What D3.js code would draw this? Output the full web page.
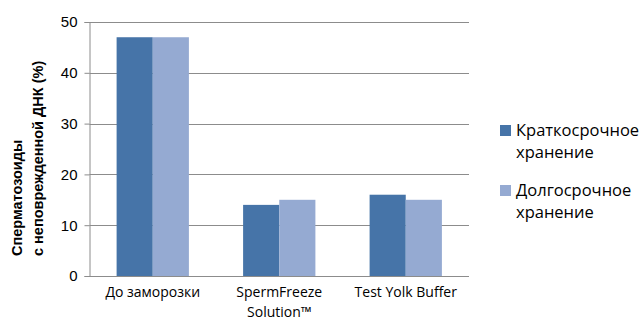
<!DOCTYPE html>
<html>
<head>
<meta charset="utf-8">
<script src="https://cdn.jsdelivr.net/npm/d3@7"></script>
<style>
  html, body { margin: 0; padding: 0; background: #fff; }
  svg { display: block; }
</style>
</head>
<body>
<svg id="chart" width="643" height="320"></svg>
<script>
// Categories and series
const categories = ["До заморозки", "SpermFreeze Solution™", "Test Yolk Buffer"];
const categoryLines = [["До заморозки"], ["SpermFreeze", "Solution™"], ["Test Yolk Buffer"]];
const seriesNames = ["Краткосрочное хранение", "Долгосрочное хранение"];
const legendLines = [["Краткосрочное", "хранение"], ["Долгосрочное", "хранение"]];
const shortTerm = [47, 14, 16];
const longTerm = [47, 15, 15];
const yTicks = [0, 10, 20, 30, 40, 50];
const yTitle = ["Сперматозоиды", "с неповрежденной ДНК (%)"];
const colors = ["#4674A8", "#95AAD2"];

const svg = d3.select("#chart");
const margin = { left: 89.5, right: 174, top: 22, bottom: 44 };
const W = 643, H = 320;
const plotW = W - margin.left - margin.right;
const plotH = H - margin.top - margin.bottom;

const g = svg.append("g").attr("transform", `translate(${margin.left},${margin.top})`);

const x0 = d3.scaleBand().domain(categories).range([0, plotW]).paddingInner(0).paddingOuter(0);
// Two bars per group with a gap of 150% of a bar width
const x1 = d3.scaleBand().domain([0, 1]).range([x0.bandwidth() * 0.75 / 3.5, x0.bandwidth() - x0.bandwidth() * 0.75 / 3.5]).padding(0);
const y = d3.scaleLinear().domain([0, 50]).range([plotH, 0]);

// Gridlines
g.append("g").selectAll("line").data(yTicks.filter(d => d > 0)).join("line")
  .attr("x1", 0).attr("x2", plotW)
  .attr("y1", d => Math.round(y(d)) + 0.5).attr("y2", d => Math.round(y(d)) + 0.5)
  .attr("stroke", "#8c8c8c").attr("stroke-width", 1);

// Bars
const data = categories.map((c, i) => ({ cat: c, vals: [shortTerm[i], longTerm[i]] }));
g.append("g").selectAll("g").data(data).join("g")
  .attr("transform", d => `translate(${x0(d.cat)},0)`)
  .selectAll("rect").data(d => d.vals.map((v, k) => ({ v, k }))).join("rect")
  .attr("x", d => x1(d.k)).attr("width", x1.bandwidth())
  .attr("y", d => y(d.v)).attr("height", d => plotH - y(d.v))
  .attr("fill", d => colors[d.k]);

// Y axis
const yAxis = d3.axisLeft(y).tickValues(yTicks).tickSize(5).tickPadding(7);
const ya = g.append("g").call(yAxis);
ya.select(".domain").attr("stroke", "#8c8c8c").attr("d", `M-5,${plotH + 0.5}H0.5V0.5H-5`);
ya.selectAll(".tick line").attr("stroke", "#8c8c8c");
ya.selectAll(".tick text").attr("font-family", "Liberation Sans, Arial, sans-serif")
  .attr("font-size", 15).attr("fill", "#000");

// X axis baseline
g.append("line").attr("x1", 0).attr("x2", plotW)
  .attr("y1", plotH + 0.5).attr("y2", plotH + 0.5).attr("stroke", "#8c8c8c");

// Category labels
const catG = g.append("g").selectAll("text").data(categories).join("text")
  .attr("text-anchor", "middle")
  .attr("font-family", "Open Sans, sans-serif").attr("font-size", 14).attr("fill", "#000")
  .attr("transform", d => `translate(${x0(d) + x0.bandwidth() / 2},${plotH + 21})`);
catG.selectAll("tspan").data((d, i) => categoryLines[i]).join("tspan")
  .attr("x", 0).attr("dy", (d, i) => i === 0 ? 0 : 19.5).text(d => d);

// Y axis title
const yt = svg.append("text")
  .attr("transform", "translate(0,256) rotate(-90)")
  .attr("font-family", "Liberation Sans, Arial, sans-serif").attr("font-weight", "bold")
  .attr("font-size", 14.5).attr("fill", "#000").attr("text-anchor", "start");
yt.selectAll("tspan").data(yTitle).join("tspan")
  .attr("x", 0).attr("y", (d, i) => 22 + i * 21).text(d => d);

// Legend
const leg = svg.append("g").attr("transform", "translate(500,125)");
const items = leg.selectAll("g").data(seriesNames).join("g")
  .attr("transform", (d, i) => `translate(0,${i * 60})`);
items.append("rect").attr("width", 11).attr("height", 11).attr("fill", (d, i) => colors[i]);
items.append("text")
  .attr("font-family", "Open Sans, sans-serif").attr("font-size", 16.5).attr("fill", "#000")
  .selectAll("tspan").data((d, i) => legendLines[i]).join("tspan")
  .attr("x", 16).attr("y", (d, i) => 11 + i * 22).text(d => d);
</script>
</body>
</html>
